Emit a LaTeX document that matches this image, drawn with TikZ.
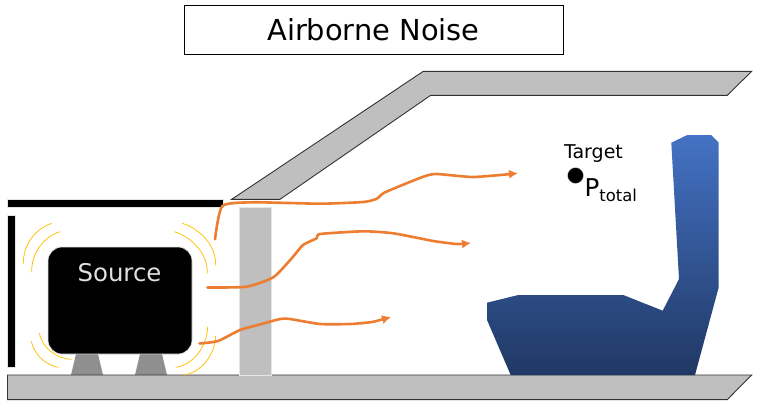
\documentclass[tikz,border=0pt]{standalone}
\usepackage{fontspec}
\setmainfont{DejaVu Sans}
\usetikzlibrary{arrows.meta}
\definecolor{wallgray}{HTML}{BFBFBF}
\definecolor{wallline}{HTML}{333333}
\definecolor{footgray}{HTML}{8F8F8F}
\definecolor{flow}{HTML}{ED7D31}
\definecolor{wave}{HTML}{FFC000}
\definecolor{seattop}{HTML}{4472C4}
\definecolor{seatbot}{HTML}{203864}
\tikzset{
  wall/.style={fill=wallgray,draw=wallline,line width=0.9pt,line join=miter},
  bar/.style={fill=black,draw=black!10,line width=0.8pt},
  wavearc/.style={draw=wave,line width=0.75pt},
  flowline/.style={draw=flow,line width=2.6pt,line cap=round,line join=round,-{Latex[length=9pt,width=9pt]}},
  fs/.style={font=\fontsize{#1}{#1}\selectfont,inner sep=0pt}
}
\begin{document}
\begin{tikzpicture}[x=1pt,y=-1pt]
\useasboundingbox (0,0) rectangle (758,408);
\fill[white] (0,0) rectangle (758,408);
% title
\node[draw=black,line width=0.7pt,minimum width=379pt,minimum height=49pt,inner sep=0pt,fs=28.9] (title) at (373.5,29.5) {Airborne Noise};
% roof
\path[wall] (231.7,199.3) -- (280,199.3) -- (430.7,95.3) -- (727.3,95.3) -- (751.7,71.3) -- (423.3,71.3) -- cycle;
% feet
\fill[footgray] (71,375) -- (76,354) -- (98,354) -- (103,375) -- cycle;
\fill[footgray] (135,375) -- (140,354) -- (162,354) -- (167,375) -- cycle;
% floor
\path[wall] (7.5,375) -- (751.7,375) -- (727.3,399.6) -- (7.5,399.6) -- cycle;
% pillar
\path[fill=wallgray,draw=black!10,line width=0.8pt] (239.5,207) rectangle (271.5,375.5);
% barriers
\path[bar] (7.5,199.5) rectangle (223,207.5);
\path[bar] (7.5,215.5) rectangle (15.5,367.5);
% source
\node[fill=black,draw=black!10,line width=0.6pt,rounded corners=14pt,minimum width=144pt,minimum height=107pt,inner sep=0pt] (src) at (120,300.5) {};
\node[fs=24.4,text=black!12] (srclabel) at (119.5,273) {Source};
% sound waves
\draw[wavearc] (51.7,223.3) .. controls (35,229) and (23,245) .. (23.3,264);
\draw[wavearc] (60,231.7) .. controls (43,237) and (31,254) .. (31.7,272.3);
\draw[wavearc] (182.3,223.3) .. controls (200,229) and (216,245) .. (215.7,265.3);
\draw[wavearc] (174.3,231.7) .. controls (192,237) and (208,254) .. (207.3,273.3);
\draw[wavearc] (31.3,341.3) .. controls (34,354) and (45,365) .. (58.3,367.3);
\draw[wavearc] (39.3,333.3) .. controls (42,347) and (56,359) .. (71.7,359.3);
\draw[wavearc] (207.7,326.7) .. controls (207,347) and (193,365) .. (175.7,367.3);
\draw[wavearc] (215.7,335.7) .. controls (215,355) and (201,373) .. (183.3,375);
% seat
\shade[top color=seattop,bottom color=seatbot] (671.3,142.7) -- (687.3,135) -- (711,135) -- (718.7,142.7) -- (718.7,287.3) -- (695,375) -- (510.7,375) -- (487,320) -- (487,302.7) -- (518.3,295) -- (623.3,295) -- (662.7,310.7) -- (679,279) -- cycle;
% flow lines
\draw[flowline] plot[smooth,tension=0.35] coordinates {(215,239.3) (222.3,206) (253.3,202.3) (320,203.7) (363.3,202) (376.7,198.8) (385,192.3) (423.3,176.7) (436.7,174) (473.3,177) (518,173.3)};
\draw[flowline] plot[smooth,tension=0.35] coordinates {(207.5,287.5) (246.7,286.7) (273.3,277.3) (291.7,258.3) (303,245) (316.7,238.3) (320,234) (363.3,231.3) (393.3,233.3) (433.3,241) (456.7,244) (471,243)};
\draw[flowline] plot[smooth,tension=0.35] coordinates {(199.5,343.5) (218,341) (240,330) (258,325) (280,319) (290,319) (320,324) (350,324) (372,322) (391,317)};
% target
\node[fs=19] (tlabel) at (593.5,154) {Target};
\node[circle,fill=black,draw=black!10,line width=0.4pt,minimum size=16pt,inner sep=0pt] (tdot) at (575.5,175.5) {};
\node[anchor=base west,fs=24.5] (ptotal) at (584.5,196) {P\raisebox{-5.5pt}{\fontsize{16.4}{16.4}\selectfont total}};
\end{tikzpicture}
\end{document}
